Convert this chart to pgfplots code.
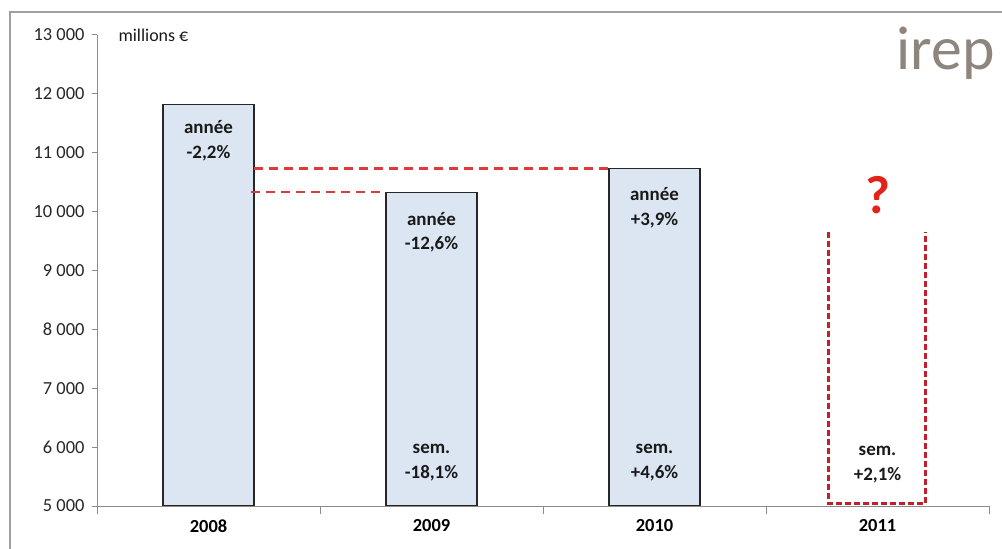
\documentclass[border=0pt]{standalone}
\usepackage{pgfplots}
\pgfplotsset{compat=1.18}
\usepackage{fontspec}
\setmainfont{Carlito}
\definecolor{barblue}{HTML}{DCE6F2}
\definecolor{dashred}{HTML}{E0393B}
\definecolor{darkred}{HTML}{C0202A}
\definecolor{qred}{HTML}{E2231A}
\definecolor{logogray}{HTML}{8E857D}
\definecolor{framegray}{HTML}{A0A0A0}
\begin{document}
\begin{tikzpicture}
\path[use as bounding box] (-97bp,-43bp) rectangle (905bp,506bp);
\draw[framegray, line width=1.2bp] (-87bp,-50bp) -- (-87bp,494bp) -- (910bp,494bp);
\begin{axis}[
  scale only axis, width=892bp, height=471bp,
  xmin=-0.5, xmax=3.5, ymin=5000, ymax=13000,
  axis x line*=bottom, axis y line*=left,
  axis line style={draw=gray!90, line width=1bp},
  ytick={5000,6000,...,13000},
  scaled y ticks=false,
  yticklabel style={font=\fontsize{18.5}{18.5}\selectfont, color=black!85, xshift=-4bp},
  /pgf/number format/1000 sep={\ },
  /pgf/number format/assume math mode=true,
  xtick={0,1,2,3}, xticklabels={2008,2009,2010,2011},
  xticklabel style={font=\bfseries\fontsize{18.5}{18.5}\selectfont, yshift=-5bp},
  major x tick style={draw=none},
  minor xtick={-0.5,0.5,1.5,2.5,3.5},
  minor x tick style={draw=gray!90, line width=1bp},
  y tick style={draw=gray!90, line width=1bp},
  tick align=outside,
  major tick length=5bp, minor tick length=8bp,
  clip=true,
]
\addplot[ybar, bar width=91bp, fill=barblue, draw=black!85, line width=1.3bp]
  coordinates {(0,11820) (1,10330) (2,10730)};
\addplot[dashred, line width=2.6bp, dash pattern=on 9bp off 6bp]
  coordinates {(0.205,10730) (1.795,10730)};
\addplot[dashred, line width=2.6bp, dash pattern=on 9bp off 6bp]
  coordinates {(0.19,10330) (0.795,10330)};
\addplot[darkred, line width=2.6bp, dash pattern=on 6bp off 3bp]
  coordinates {(2.78,9650) (2.78,5040) (3.215,5040) (3.215,9650)};
\begin{scope}[every node/.style={align=center, font=\bfseries\fontsize{19}{25}\selectfont, text=black!90}]
\node at (axis cs:0,11200) {année\\-2,2\%};
\node at (axis cs:1,9650) {année\\-12,6\%};
\node at (axis cs:2,10060) {année\\+3,9\%};
\node at (axis cs:1,5740) {sem.\\-18,1\%};
\node at (axis cs:2,5740) {sem.\\+4,6\%};
\node at (axis cs:3,5700) {sem.\\+2,1\%};
\end{scope}
\node[font=\bfseries\fontsize{54}{54}\selectfont, text=qred] at (axis cs:3,10280) {?};
\end{axis}
\node[anchor=west, font=\fontsize{18}{18}\selectfont, text=black!90] at (18bp,471bp) {millions €};
\node[anchor=base east, font=\fontsize{62}{62}\selectfont, text=logogray, inner sep=0pt] at (898bp,436bp) {irep};
\end{tikzpicture}
\end{document}
